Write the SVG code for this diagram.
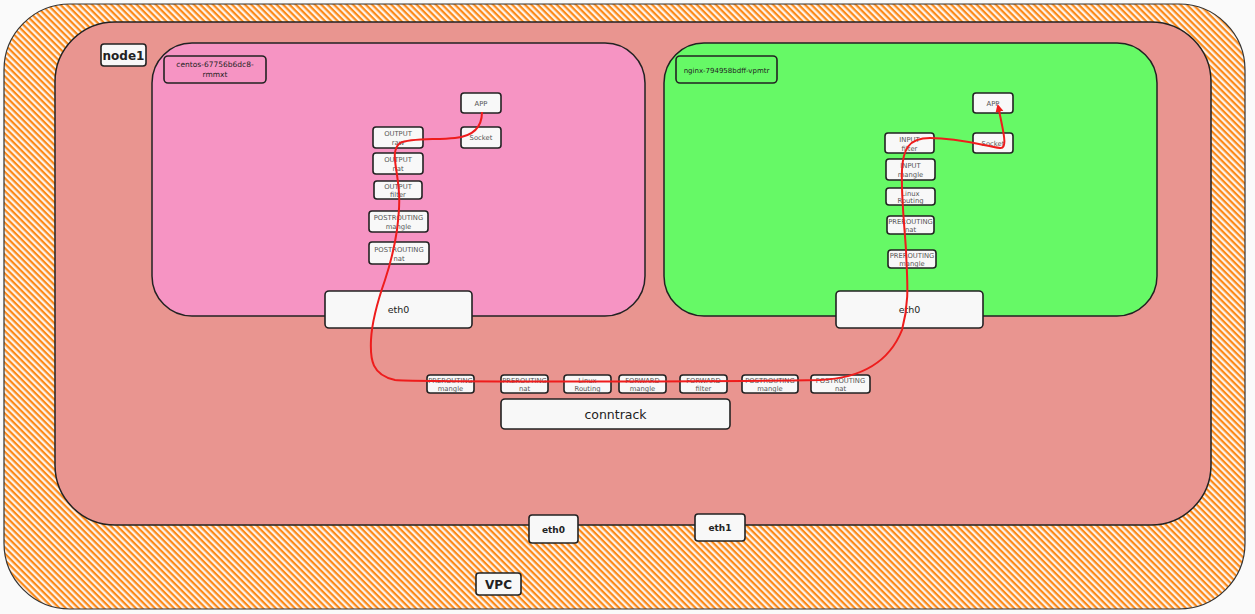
<svg xmlns="http://www.w3.org/2000/svg" width="1255" height="614" viewBox="0 0 1255 614">
<defs>
<pattern id="hatch" width="4.5" height="4.5" patternUnits="userSpaceOnUse" patternTransform="rotate(45)">
<rect width="4.5" height="4.5" fill="#fdf3ea"/>
<rect x="0" y="0" width="4.5" height="2.2" fill="#fb8a1a"/>
</pattern>
<marker id="arr" markerWidth="10" markerHeight="10" refX="6" refY="5" orient="auto" markerUnits="userSpaceOnUse">
<path d="M0,1 L8,5 L0,9 Z" fill="#ee1c1c"/>
</marker>
<style>
.box{fill:#f8f8f8;stroke:#222;stroke-width:1.6}
.t{font-family:"DejaVu Sans",sans-serif;fill:#555;font-size:6.8px;text-anchor:middle}
.lab{font-family:"DejaVu Sans",sans-serif;fill:#222;text-anchor:middle}
</style>
</defs>
<rect width="1255" height="614" fill="#fafafa"/>
<g id="vpc">
<rect x="4" y="4" width="1241" height="605" rx="66" fill="url(#hatch)" stroke="#333" stroke-width="1.2"/>
</g>
<g id="node1">
<rect x="55" y="22" width="1156" height="503" rx="60" fill="#e99590" stroke="#222" stroke-width="1.5"/>
<rect class="box" x="101" y="44" width="45" height="22" rx="3"/>
<text class="lab" x="123.5" y="59.5" font-size="12" font-weight="bold">node1</text>
</g>
<g id="pod-centos">
<rect x="152" y="43" width="493" height="273" rx="40" fill="#f694c3" stroke="#222" stroke-width="1.5"/>
<rect x="164" y="56" width="102" height="27" rx="4" fill="none" stroke="#222" stroke-width="1.6"/>
<text class="lab" x="215" y="67" font-size="7.5">centos-67756b6dc8-</text>
<text class="lab" x="215" y="77" font-size="7.5">rmmxt</text>
</g>
<g id="pod-nginx">
<rect x="664" y="43" width="493" height="273" rx="40" fill="#66f966" stroke="#222" stroke-width="1.5"/>
<rect x="676" y="56" width="101" height="27" rx="4" fill="none" stroke="#222" stroke-width="1.6"/>
<text class="lab" x="726.5" y="72.5" font-size="7">nginx-794958bdff-vpmtr</text>
</g>
<g id="c-app"><rect class="box" x="461" y="93" width="40" height="20" rx="3"/><text class="t" x="481" y="105.5">APP</text></g>
<g id="c-socket"><rect class="box" x="461" y="127" width="40" height="21" rx="3"/><text class="t" x="481" y="140">Socket</text></g>
<g id="c-out-raw"><rect class="box" x="373" y="127" width="50" height="21" rx="3"/><text class="t" x="398" y="136">OUTPUT</text><text class="t" x="398" y="145">raw</text></g>
<g id="c-out-nat"><rect class="box" x="373" y="153" width="50" height="21" rx="3"/><text class="t" x="398" y="162">OUTPUT</text><text class="t" x="398" y="171">nat</text></g>
<g id="c-out-filter"><rect class="box" x="374" y="181" width="48" height="18" rx="3"/><text class="t" x="398" y="189">OUTPUT</text><text class="t" x="398" y="197">filter</text></g>
<g id="c-post-mangle"><rect class="box" x="369" y="211" width="59" height="21" rx="3"/><text class="t" x="398.5" y="220">POSTROUTING</text><text class="t" x="398.5" y="229">mangle</text></g>
<g id="c-post-nat"><rect class="box" x="369" y="242" width="60" height="22" rx="3"/><text class="t" x="399" y="252">POSTROUTING</text><text class="t" x="399" y="261">nat</text></g>
<g id="c-eth0"><rect class="box" x="325" y="291" width="147" height="37" rx="4"/><text class="lab" x="398.5" y="313" font-size="9.5">eth0</text></g>
<g id="n-app"><rect class="box" x="973" y="93" width="40" height="20" rx="3"/><text class="t" x="993" y="105.5">APP</text></g>
<g id="n-socket"><rect class="box" x="973" y="133" width="40" height="20" rx="3"/><text class="t" x="993" y="146">Socket</text></g>
<g id="n-in-filter"><rect class="box" x="885" y="133" width="49" height="20" rx="3"/><text class="t" x="909.5" y="142">INPUT</text><text class="t" x="909.5" y="150.5">filter</text></g>
<g id="n-in-mangle"><rect class="box" x="886" y="159" width="49" height="21" rx="3"/><text class="t" x="910.5" y="168">INPUT</text><text class="t" x="910.5" y="177">mangle</text></g>
<g id="n-routing"><rect class="box" x="886" y="188" width="49" height="17" rx="3"/><text class="t" x="910.5" y="195.5">Linux</text><text class="t" x="910.5" y="203">Routing</text></g>
<g id="n-pre-nat"><rect class="box" x="887" y="216" width="47" height="18" rx="3"/><text class="t" x="910.5" y="224">PREROUTING</text><text class="t" x="910.5" y="232">nat</text></g>
<g id="n-pre-mangle"><rect class="box" x="888" y="250" width="48" height="18" rx="3"/><text class="t" x="912" y="258">PREROUTING</text><text class="t" x="912" y="266">mangle</text></g>
<g id="n-eth0"><rect class="box" x="836" y="291" width="147" height="37" rx="4"/><text class="lab" x="909.5" y="313" font-size="9.5">eth0</text></g>
<g id="h-pre-mangle"><rect class="box" x="427" y="375" width="47" height="18" rx="3"/><text class="t" x="450.5" y="382.5">PREROUTING</text><text class="t" x="450.5" y="390.5">mangle</text></g>
<g id="h-pre-nat"><rect class="box" x="501" y="375" width="47" height="18" rx="3"/><text class="t" x="524.5" y="382.5">PREROUTING</text><text class="t" x="524.5" y="390.5">nat</text></g>
<g id="h-routing"><rect class="box" x="564" y="375" width="47" height="18" rx="3"/><text class="t" x="587.5" y="382.5">Linux</text><text class="t" x="587.5" y="390.5">Routing</text></g>
<g id="h-fwd-mangle"><rect class="box" x="619" y="375" width="47" height="18" rx="3"/><text class="t" x="642.5" y="382.5">FORWARD</text><text class="t" x="642.5" y="390.5">mangle</text></g>
<g id="h-fwd-filter"><rect class="box" x="680" y="375" width="47" height="18" rx="3"/><text class="t" x="703.5" y="382.5">FORWARD</text><text class="t" x="703.5" y="390.5">filter</text></g>
<g id="h-post-mangle"><rect class="box" x="742" y="375" width="56" height="18" rx="3"/><text class="t" x="770" y="382.5">POSTROUTING</text><text class="t" x="770" y="390.5">mangle</text></g>
<g id="h-post-nat"><rect class="box" x="811" y="375" width="59" height="18" rx="3"/><text class="t" x="840.5" y="382.5">POSTROUTING</text><text class="t" x="840.5" y="390.5">nat</text></g>
<g id="conntrack"><rect class="box" x="501" y="399" width="229" height="30" rx="4"/><text class="lab" x="615.5" y="418.5" font-size="12.5" fill="#333">conntrack</text></g>
<g id="node-eth0"><rect class="box" x="529" y="515" width="49" height="28" rx="3"/><text class="lab" x="553.5" y="532.5" font-size="9" font-weight="bold">eth0</text></g>
<g id="node-eth1"><rect class="box" x="695" y="514" width="50" height="27" rx="3"/><text class="lab" x="720" y="530.5" font-size="9" font-weight="bold">eth1</text></g>
<g id="vpc-label"><rect class="box" x="476" y="573" width="45" height="22" rx="3"/><text class="lab" x="498.5" y="588.5" font-size="12" font-weight="bold">VPC</text></g>
<g id="connectors">
<path d="M482,112 C482,125 475,136 455,138 C435,140 410,138 400,143 C392,150 395,160 397,175 C400,195 400,205 397,230 C394,250 390,265 385,280 C378,300 372,320 371,340 C370,360 372,375 395,380 C420,382 700,382 820,380 C865,378 890,360 902,330 C910,300 907,280 906,250 C904,220 901,195 902,170 C903,150 908,138 930,138 C960,138 985,146 1000,148 C1007,149 1004,135 1002,125 C1000,115 999,110 998,106" fill="none" stroke="#ee1c1c" stroke-width="2" marker-end="url(#arr)"/>
</g>
</svg>
